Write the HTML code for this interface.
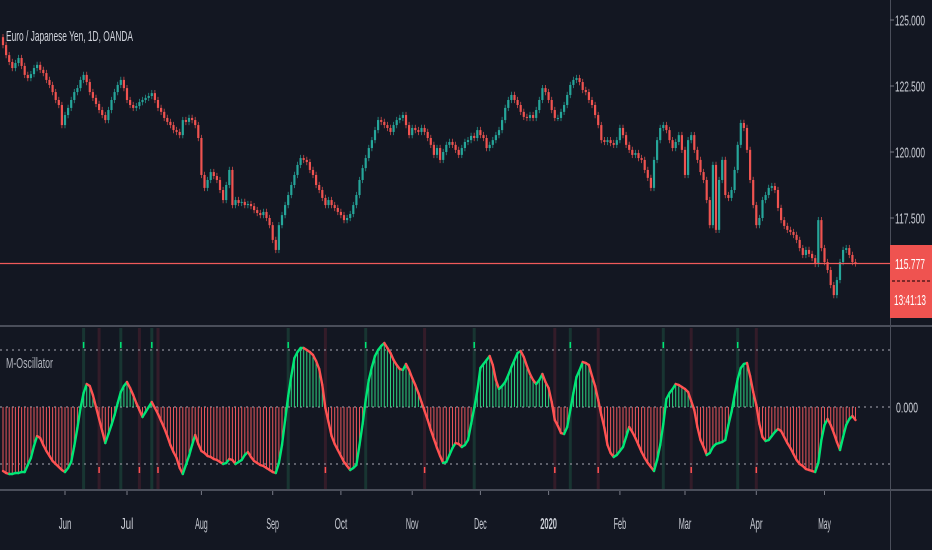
<!DOCTYPE html>
<html><head><meta charset="utf-8">
<style>
html,body{margin:0;padding:0;background:#131722;}
#wrap{position:relative;width:932px;height:550px;overflow:hidden;background:#131722;font-family:"Liberation Sans",sans-serif;}
svg text{font-family:"Liberation Sans",sans-serif;}
</style></head>
<body>
<div id="wrap">
<svg id="chart" width="932" height="550" viewBox="0 0 932 550">
  <rect x="0" y="0" width="932" height="550" fill="#131722"/>
  <g id="osc-bands"></g>
  <g id="candles"></g>
  <g id="osc"></g>
  <line x1="0" y1="326" x2="932" y2="326" stroke="#4a4e5a" stroke-width="2"/>
  <line x1="0" y1="490" x2="932" y2="490" stroke="#4a4e5a" stroke-width="2"/>
  <line x1="890.5" y1="0" x2="890.5" y2="550" stroke="#4a4e5a" stroke-width="1"/>
  <g id="yaxis"></g>
  <g id="xaxis"></g>
  <text x="6" y="41" fill="#d1d4dc" font-size="15" textLength="127" lengthAdjust="spacingAndGlyphs">Euro / Japanese Yen, 1D, OANDA</text>
  <text x="6" y="368" fill="#b2b5be" font-size="15" textLength="47" lengthAdjust="spacingAndGlyphs">M-Oscillator</text>
</svg>
</div>
<script>
const closes = [
124.05,123.67,123.41,123.18,123.37,123.56,123.26,122.92,122.80,
122.95,123.18,123.30,123.11,122.99,122.73,122.54,122.27,121.97,
121.78,121.02,121.40,121.67,121.97,122.27,122.42,122.73,122.92,
122.65,122.27,122.05,121.82,121.59,121.40,121.21,121.59,121.97,
122.27,122.54,122.73,122.42,121.97,121.78,121.67,121.74,121.89,
121.97,122.05,122.12,122.23,121.97,121.67,121.52,121.29,121.14,
121.02,120.83,120.76,120.64,121.21,121.14,121.29,121.21,121.02,
120.53,119.13,118.64,118.94,119.24,119.09,118.94,118.56,118.18,
118.75,119.32,117.99,118.18,118.07,118.11,117.99,118.03,117.95,
117.80,117.69,117.61,117.73,117.50,117.23,116.67,116.29,117.23,
117.61,117.99,118.37,118.75,119.13,119.51,119.77,119.70,119.62,
119.32,119.13,118.75,118.56,118.26,117.99,118.18,117.99,117.88,
117.73,117.61,117.42,117.50,117.65,117.99,118.37,118.94,119.39,
119.77,120.15,120.45,120.83,121.21,121.14,121.02,120.91,120.76,
121.02,121.21,121.29,121.40,121.02,120.64,120.91,120.83,120.76,
120.91,120.76,120.53,120.27,119.89,120.15,119.70,120.00,120.27,
120.38,120.27,120.08,119.89,120.15,120.38,120.45,120.61,120.53,
120.83,120.64,120.53,120.15,120.27,120.45,120.64,120.83,121.21,
121.67,121.97,122.16,121.97,121.78,121.52,121.33,121.29,121.40,
121.29,121.59,121.97,122.42,122.27,121.97,121.59,121.29,121.29,
121.52,121.78,122.16,122.54,122.73,122.80,122.65,122.35,122.27,
121.97,121.78,121.40,121.02,120.45,120.38,120.45,120.34,120.27,
120.45,120.91,120.64,120.27,120.08,119.89,119.96,119.77,119.70,
119.32,119.02,118.64,119.70,120.45,120.91,121.02,120.83,120.45,
120.15,120.38,120.64,120.08,119.13,120.45,120.64,120.08,119.70,
119.24,118.94,118.18,117.23,119.51,117.05,118.94,119.70,118.37,
118.26,118.56,119.32,120.27,121.10,120.91,120.08,118.94,117.99,
117.23,117.50,118.18,118.37,118.64,118.71,118.56,117.88,117.42,
117.20,117.05,116.97,116.86,116.67,116.36,116.10,116.29,116.14,
115.98,115.76,117.42,116.36,115.83,115.53,114.96,114.58,115.15,
115.83,116.29,116.36,116.10,115.83,115.78];
const oscValues = [
-64,-66,-67,-67,-66,-66,-65,-65,-58,-51,
-39,-29,-31,-38,-44,-49,-54,-57,-60,-63,
-65,-61,-55,-39,-21,-1,14,23,21,12,
0,-12,-24,-36,-27,-18,-8,4,15,21,
25,19,12,4,-3,-10,-5,0,5,-1,
-7,-14,-21,-29,-38,-45,-51,-61,-67,-58,
-49,-38,-28,-37,-44,-46,-49,-50,-52,-53,
-55,-57,-56,-52,-53,-57,-55,-53,-48,-45,
-50,-54,-56,-58,-59,-61,-63,-65,-66,-56,
-38,-13,11,31,49,55,59,59,57,55,
52,46,38,22,-1,-15,-29,-37,-43,-49,
-55,-59,-63,-61,-58,-38,-17,7,27,40,
51,57,61,64,59,54,47,42,38,37,
43,37,29,22,14,5,-4,-13,-23,-32,
-41,-49,-56,-55,-48,-41,-36,-37,-40,-38,
-33,-17,-1,16,39,43,47,51,42,27,
18,21,25,32,40,47,54,56,50,41,
33,27,23,27,33,25,19,5,-13,-19,
-26,-27,-20,-3,14,30,37,45,44,42,
31,21,7,-8,-21,-38,-46,-50,-48,-44,
-40,-30,-20,-25,-31,-38,-45,-51,-56,-60,
-64,-53,-38,-17,8,14,18,23,22,20,
18,15,6,-3,-20,-33,-40,-48,-46,-40,
-37,-36,-35,-33,-18,-5,12,28,39,43,
44,31,15,2,-17,-30,-34,-33,-29,-25,
-22,-24,-30,-36,-41,-47,-53,-57,-59,-62,
-63,-64,-65,-56,-33,-18,-12,-18,-26,-35,
-43,-30,-18,-12,-9,-13];
const oscLevels = [57, 0, -57];
const buySignalBars = [26, 38, 48, 92, 117, 152, 183, 213, 237];
const sellSignalBars = [31, 44, 50, 104, 136, 178, 192, 222, 243];
const priceTicks = [125, 122.5, 120, 117.5];
const monthLabels = ["Jun","Jul","Aug","Sep","Oct","Nov","Dec","2020","Feb","Mar","Apr","May"];
const monthBars = [20, 40, 64, 87, 109, 132, 154, 176, 199, 220, 243, 265];
const lastPrice = 115.777;
const countdown = "13:41:13";

const NS = "http://www.w3.org/2000/svg";
const BAR0 = 3, STEP = 3.1;
function xOf(i){ return BAR0 + STEP * i; }
function yPrice(p){ return 20 + (125 - p) * 26.4; }
function yOsc(v){ return 407 - v * 1.0; }
function mk(tag, attrs, parent){ const e = document.createElementNS(NS, tag); for (const k in attrs) e.setAttribute(k, attrs[k]); parent.appendChild(e); return e; }

const GREEN = "#26a69a", RED = "#ef5350";
const cg = document.getElementById("candles");
for (let i = 0; i < closes.length; i++) {
  const c = closes[i];
  const o = i === 0 ? closes[0] + 0.3 : closes[i - 1];
  const up = c >= o;
  const col = up ? GREEN : RED;
  const hi = Math.max(o, c) + 0.12, lo = Math.min(o, c) - 0.12;
  const x = xOf(i);
  const w = mk("line", {x1: x, x2: x, y1: yPrice(hi), y2: yPrice(lo), stroke: col, "stroke-width": 0.8, opacity: 0.85}, cg);
  
  
  const top = yPrice(Math.max(o, c)), bot = yPrice(Math.min(o, c));
  const b = mk("rect", {x: x - 1.1, y: top, width: 2.2, height: Math.max(1, bot - top), fill: col}, cg);
  
  
}
const lp = mk("line", {x1: 0, x2: 890, y1: yPrice(lastPrice), y2: yPrice(lastPrice), stroke: "#f05a5a", "stroke-width": 1.3}, cg);



const bg = document.getElementById("osc-bands");
buySignalBars.forEach(i => {
  const r = mk("rect", {x: xOf(i) - 1.5, y: 328, width: 3, height: 161, fill: "#1e5b46", opacity: 0.45}, bg);
  
  
  const m = mk("rect", {x: xOf(i) - 0.75, y: 342, width: 1.5, height: 6, fill: "#00e676"}, bg);
  
  
});
sellSignalBars.forEach(i => {
  const r = mk("rect", {x: xOf(i) - 1.5, y: 328, width: 3, height: 161, fill: "#5b2433", opacity: 0.45}, bg);
  
  
  const m = mk("rect", {x: xOf(i) - 0.75, y: 467, width: 1.5, height: 6, fill: "#ff5252"}, bg);
  
  
});

const og = document.getElementById("osc");
oscLevels.forEach(v => {
  const l = mk("line", {x1: 0, x2: 890, y1: yOsc(v), y2: yOsc(v), stroke: "#8a8d97", "stroke-width": 1.2, "stroke-dasharray": "2 4"}, og);
  
  
});
for (let i = 0; i < oscValues.length; i++) {
  const v = oscValues[i];
  const h = mk("line", {x1: xOf(i), x2: xOf(i), y1: yOsc(0), y2: yOsc(v), stroke: v >= 0 ? "#2bd07f" : "#e8545a", "stroke-width": 1}, og);
  
  
}
for (let i = 1; i < oscValues.length; i++) {
  const rising = oscValues[i] >= oscValues[i - 1];
  const s = mk("line", {x1: xOf(i - 1), x2: xOf(i), y1: yOsc(oscValues[i - 1]), y2: yOsc(oscValues[i]), stroke: rising ? "#00e676" : "#ff5252", "stroke-width": 2.4, "stroke-linecap": "round"}, og);
  
  
}

const ya = document.getElementById("yaxis");
priceTicks.forEach(p => {
  const t = mk("line", {x1: 890, x2: 894, y1: yPrice(p), y2: yPrice(p), stroke: "#787b86"}, ya);
  
  
  const tx = mk("text", {x: 895, y: yPrice(p) + 5.5, fill: "#c9ccd4", "font-size": 15, textLength: 30, lengthAdjust: "spacingAndGlyphs"}, ya);
  tx.textContent = p.toFixed(3);
  
  
});
const box = mk("rect", {x: 890, y: 245, width: 42, height: 73, fill: "#ef5350"}, ya);


const sep = mk("line", {x1: 892, x2: 930, y1: 281, y2: 281, stroke: "#5a1a1c", "stroke-width": 1.5, "stroke-dasharray": "3 2"}, ya);


const lpt = mk("text", {x: 895, y: yPrice(lastPrice) + 5.5, fill: "#ffffff", "font-size": 15, textLength: 30, lengthAdjust: "spacingAndGlyphs"}, ya);
lpt.textContent = lastPrice.toFixed(3);


const cdt = mk("text", {x: 894, y: 305, fill: "#ffffff", "font-size": 15, textLength: 32, lengthAdjust: "spacingAndGlyphs"}, ya);
cdt.textContent = countdown;


const zt = mk("text", {x: 896, y: yOsc(0) + 5.5, fill: "#c9ccd4", "font-size": 15, textLength: 22, lengthAdjust: "spacingAndGlyphs"}, ya);
zt.textContent = "0.000";



const xa = document.getElementById("xaxis");
monthLabels.forEach((m, k) => {
  const x = xOf(monthBars[k]);
  const t = mk("line", {x1: x, x2: x, y1: 491, y2: 495, stroke: "#787b86"}, xa);
  
  
  const tx = mk("text", {x: x, y: 529, fill: "#c9ccd4", "font-size": 16, "text-anchor": "middle", "font-weight": m === "2020" ? "bold" : "normal", textLength: m.length * 4.2, lengthAdjust: "spacingAndGlyphs"}, xa);
  tx.textContent = m;
  
  
});
</script>
</body></html>
